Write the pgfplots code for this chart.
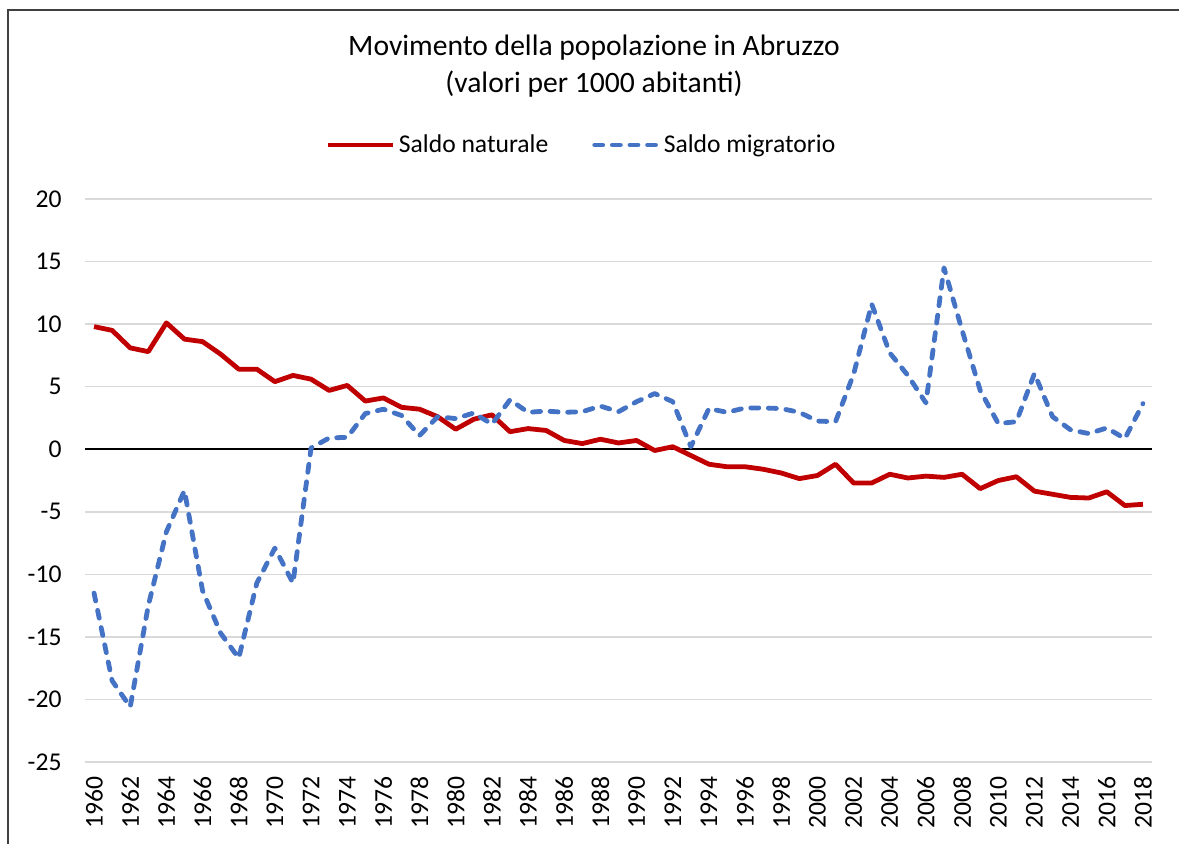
\documentclass[border=0pt]{standalone}
\usepackage{fontspec}
\setmainfont{Carlito}
\usepackage{pgfplots}
\pgfplotsset{compat=1.18}
\usepackage{pgfplotstable}
\definecolor{natred}{RGB}{192,0,0}
\definecolor{migblue}{RGB}{68,114,196}
\definecolor{gridgray}{RGB}{217,217,217}
\definecolor{bordergray}{RGB}{64,64,64}

\pgfplotstableread{
year nat mig
1960 9.8 -11.5
1961 9.5 -18.5
1962 8.1 -20.6
1963 7.8 -12.5
1964 10.1 -6.6
1965 8.8 -3.3
1966 8.6 -11.3
1967 7.6 -14.7
1968 6.4 -16.7
1969 6.4 -10.7
1970 5.4 -7.9
1971 5.9 -10.7
1972 5.6 0.1
1973 4.7 0.9
1974 5.1 0.95
1975 3.85 2.85
1976 4.1 3.2
1977 3.35 2.7
1978 3.2 1.1
1979 2.6 2.6
1980 1.6 2.45
1981 2.4 2.9
1982 2.75 2.0
1983 1.4 3.95
1984 1.65 2.95
1985 1.5 3.05
1986 0.7 2.95
1987 0.45 3.0
1988 0.8 3.45
1989 0.5 3.0
1990 0.7 3.8
1991 -0.1 4.45
1992 0.2 3.8
1993 -0.5 0.2
1994 -1.2 3.25
1995 -1.4 2.95
1996 -1.4 3.3
1997 -1.6 3.3
1998 -1.9 3.25
1999 -2.35 2.95
2000 -2.1 2.25
2001 -1.2 2.2
2002 -2.7 6.0
2003 -2.7 11.6
2004 -2.0 7.7
2005 -2.3 5.9
2006 -2.15 3.7
2007 -2.25 14.5
2008 -2.0 9.5
2009 -3.15 4.7
2010 -2.5 2.05
2011 -2.2 2.2
2012 -3.35 6.05
2013 -3.6 2.6
2014 -3.85 1.55
2015 -3.9 1.25
2016 -3.4 1.7
2017 -4.5 0.85
2018 -4.4 3.65
}\datatable

\tikzset{
  natstyle/.style={natred, line width=2.4pt, line join=round},
  migstyle/.style={migblue, line width=2.4pt, line cap=round, line join=round, dash pattern=on 4pt off 4.8pt},
}

\begin{document}
\begin{tikzpicture}
\path[use as bounding box] (0pt,0pt) rectangle (589.5pt,421.5pt);
\begin{scope}
\clip (0pt,0pt) rectangle (589.5pt,421.5pt);
\draw[bordergray, line width=0.7pt] (4pt,-10pt) rectangle (600pt,416.5pt);
\end{scope}
\node[align=center, font=\fontsize{14.8}{18.5}\selectfont] at (297pt,388.5pt)
  {Movimento della popolazione in Abruzzo\\(valori per 1000 abitanti)};
\begin{axis}[
  at={(42.5pt,40.5pt)}, anchor=south west,
  scale only axis, width=533.5pt, height=281.5pt,
  xmin=1959.5, xmax=2018.5,
  ymin=-25, ymax=20,
  xtick={1960,1962,...,2018},
  ytick={-25,-20,...,20},
  extra y ticks={0},
  extra y tick labels={},
  extra y tick style={grid style={black, line width=1pt}},
  ymajorgrids,
  grid style={gridgray, line width=0.75pt},
  axis line style={draw=none},
  tick style={draw=none},
  /pgf/number format/.cd, 1000 sep={}, assume math mode=true,
  /pgfplots/.cd,
  ticklabel style={font=\fontsize{12.8}{15}\selectfont},
  xticklabel style={rotate=90, anchor=east, xshift=-3.7pt},
  yticklabel style={xshift=-8.2pt},
  legend style={at={(0.466,1.096)}, anchor=center, draw=none, fill=none,
    font=\fontsize{12.8}{15}\selectfont,
    /tikz/every even column/.append style={column sep=20pt}},
  legend columns=2,
]
\addplot[natstyle, forget plot] table[x=year, y=nat] {\datatable};
\addplot[migstyle, forget plot] table[x=year, y=mig] {\datatable};
\addlegendimage{legend image code/.code={\draw[natstyle] (0pt,0pt) -- (32.5pt,0pt);}}
\addlegendentry{Saldo naturale}
\addlegendimage{legend image code/.code={\draw[migstyle] (1.2pt,0pt) -- (32.5pt,0pt);}}
\addlegendentry{Saldo migratorio}
\end{axis}
\end{tikzpicture}
\end{document}
